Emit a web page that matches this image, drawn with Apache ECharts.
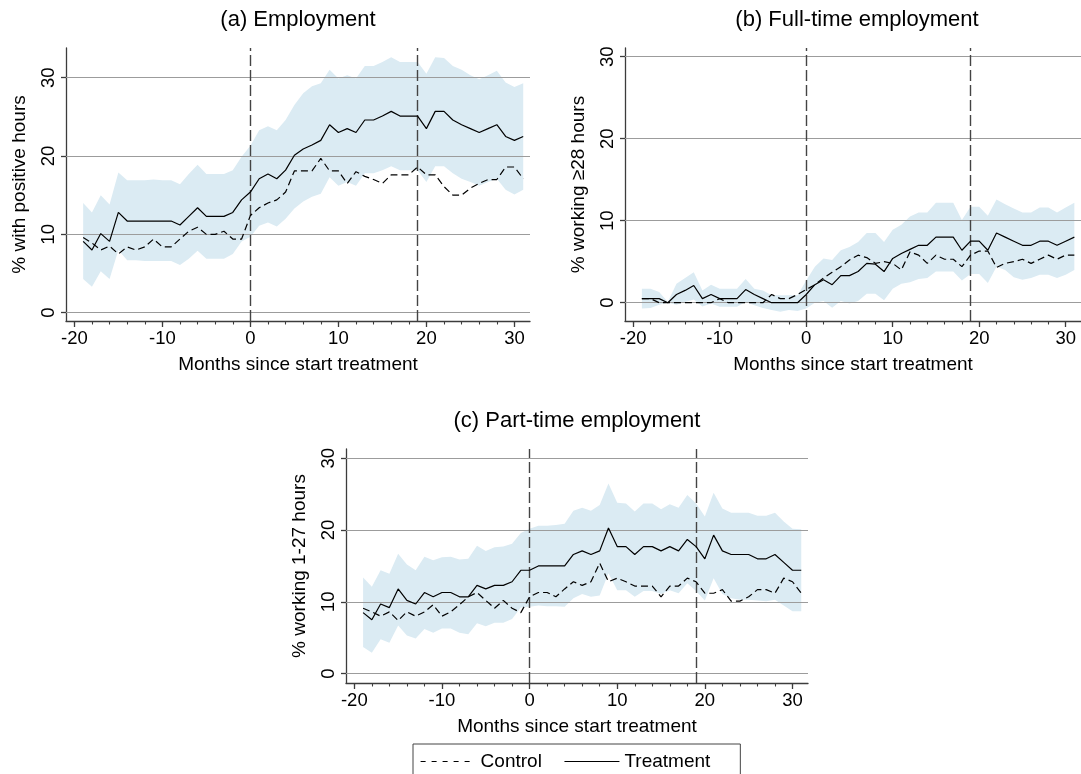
<!DOCTYPE html>
<html>
<head>
<meta charset="utf-8">
<title>Employment around start of treatment</title>
<script src="https://cdn.jsdelivr.net/npm/echarts@6/dist/echarts.min.js"></script>
<style>
  html, body { margin: 0; padding: 0; background: #ffffff; }
  #chart { width: 1081px; height: 774px; }
</style>
</head>
<body>
<div id="chart"></div>
<script>
// Months relative to the start of treatment
const months = [-19, -18, -17, -16, -15, -14, -13, -12, -11, -10, -9, -8, -7, -6, -5, -4, -3, -2, -1,
  0, 1, 2, 3, 4, 5, 6, 7, 8, 9, 10, 11, 12, 13, 14, 15, 16, 17, 18, 19, 20, 21, 22, 23, 24, 25, 26, 27, 28, 29, 30, 31];

const xMajorTicks = [-20, -10, 0, 10, 20, 30];
const xMinorTicks = [-20, -18, -16, -14, -12, -10, -8, -6, -4, -2, 0, 2, 4, 6, 8, 10, 12, 14, 16, 18, 20, 22, 24, 26, 28, 30];
const yTicks = [0, 10, 20, 30];
const eventMonths = [0, 19];

// (a) Employment
const empTreatment = [9.1, 8.0, 10.1, 9.1, 12.8, 11.7, 11.7, 11.7, 11.7, 11.7, 11.7, 11.2, 12.3, 13.4, 12.3, 12.3, 12.3, 12.8, 14.4,
  15.4, 17.1, 17.7, 17.1, 18.2, 20.1, 20.9, 21.4, 22.0, 24.0, 23.0, 23.5, 23.0, 24.6, 24.6, 25.1, 25.7, 25.1, 25.1, 25.1,
  23.5, 25.7, 25.7, 24.6, 24.0, 23.5, 23.0, 23.5, 24.0, 22.5, 22.0, 22.5];
const empControl = [9.6, 8.9, 8.0, 8.5, 7.5, 8.4, 8.0, 8.4, 9.4, 8.4, 8.4, 9.4, 10.4, 10.9, 10.0, 10.0, 10.4, 9.4, 9.4,
  12.4, 13.4, 14.0, 14.4, 15.4, 18.1, 18.1, 18.1, 19.7, 18.1, 18.1, 16.5, 18.0, 17.4, 17.0, 16.5, 17.6, 17.6, 17.6, 18.6,
  17.6, 17.6, 16.1, 15.0, 15.0, 15.9, 16.5, 17.0, 17.0, 18.6, 18.6, 17.1];
const empUpper = [14.0, 12.8, 15.0, 13.8, 17.9, 16.9, 16.9, 16.9, 17.0, 16.9, 16.9, 16.4, 17.7, 18.9, 17.7, 17.7, 17.7, 18.2, 19.9,
  21.3, 23.3, 23.8, 23.3, 24.6, 26.5, 28.0, 28.9, 29.3, 31.0, 29.9, 30.3, 29.9, 31.5, 31.5, 32.0, 32.6, 32.0, 32.0, 32.0,
  30.5, 32.6, 32.5, 31.5, 31.0, 30.3, 29.8, 30.3, 30.9, 29.4, 28.8, 29.3];
const empLower = [4.3, 3.3, 5.3, 4.3, 8.0, 6.7, 6.7, 6.6, 6.6, 6.6, 6.6, 6.1, 6.9, 7.9, 6.9, 6.9, 6.9, 7.5, 9.1,
  9.7, 11.1, 11.5, 11.0, 12.0, 13.3, 14.2, 14.8, 15.2, 17.3, 16.2, 16.7, 16.2, 17.8, 17.8, 18.2, 18.7, 18.2, 18.2, 18.2,
  16.7, 18.7, 18.7, 17.8, 17.1, 16.7, 16.2, 16.7, 17.1, 15.7, 15.1, 15.7];

// (b) Full-time employment
const ftTreatment = [0.5, 0.5, 0.5, 0.0, 1.0, 1.5, 2.1, 0.5, 1.0, 0.5, 0.5, 0.5, 1.6, 1.0, 0.5, 0.0, 0.0, 0.0, 0.0,
  1.0, 2.2, 2.8, 2.2, 3.3, 3.3, 3.8, 4.8, 4.7, 3.8, 5.4, 6.0, 6.5, 7.0, 7.0, 8.0, 8.0, 8.0, 6.4,
  7.5, 7.5, 6.4, 8.5, 8.0, 7.5, 7.0, 7.0, 7.5, 7.5, 7.0, 7.5, 8.0];
const ftControl = [0.5, 0.5, 0.0, 0.0, 0.0, 0.0, 0.0, 0.0, 0.0, 0.5, 0.0, 0.0, 0.0, 0.0, 0.0, 1.0, 0.5, 0.5, 1.0,
  1.6, 2.2, 3.0, 3.7, 4.4, 5.2, 5.8, 5.5, 4.8, 5.0, 4.8, 4.0, 6.2, 5.8, 4.8, 5.8, 5.3, 5.3, 4.4,
  5.8, 6.3, 6.3, 4.3, 4.8, 5.0, 5.3, 4.8, 5.3, 5.8, 5.3, 5.8, 5.8];
const ftUpper = [1.7, 1.7, 1.3, 0.1, 2.3, 3.0, 3.7, 1.5, 2.2, 1.7, 1.7, 1.7, 2.9, 1.7, 1.5, 0.9, 0.9, 0.9, 0.9,
  2.7, 4.4, 5.4, 5.2, 6.4, 6.8, 7.4, 8.5, 8.5, 7.4, 8.9, 9.5, 10.5, 11.0, 11.0, 12.2, 12.2, 12.2, 10.1,
  11.7, 11.7, 10.6, 12.6, 12.0, 11.5, 11.0, 11.0, 11.6, 11.6, 11.0, 11.6, 12.2];
const ftLower = [-0.7, -0.65, -0.25, 0.0, -0.25, 0.1, 0.4, -0.45, -0.1, -0.5, -0.5, -0.5, 0.1, -0.3, -0.65, -0.9, -1.1, -0.9, -1.0,
  -0.7, 0.0, 0.2, -0.6, 0.2, -0.1, 0.2, 1.1, 1.1, 0.3, 1.7, 2.3, 2.5, 2.9, 3.0, 3.8, 3.8, 3.8, 2.7,
  3.5, 3.5, 2.4, 4.4, 4.0, 3.1, 2.8, 3.0, 3.4, 3.4, 3.0, 3.4, 4.0];

// (c) Part-time employment
const ptTreatment = [8.5, 7.5, 9.7, 9.2, 11.8, 10.2, 9.7, 11.3, 10.7, 11.3, 11.3, 10.7, 10.7, 12.3, 11.8, 12.3, 12.3, 12.8, 14.4,
  14.4, 15.0, 15.0, 15.0, 15.0, 16.6, 17.1, 16.6, 17.1, 20.3, 17.7, 17.7, 16.6, 17.7, 17.7, 17.1, 17.7, 17.1, 18.7, 17.7,
  16.0, 19.3, 17.1, 16.6, 16.6, 16.6, 16.0, 16.0, 16.6, 15.5, 14.4, 14.4];
const ptControl = [9.1, 8.6, 8.0, 8.6, 7.4, 8.6, 8.0, 8.6, 9.6, 8.0, 8.6, 9.6, 10.7, 11.3, 10.2, 9.1, 10.2, 9.1, 8.5,
  10.7, 11.3, 11.3, 10.7, 11.8, 12.8, 12.3, 12.8, 15.4, 12.8, 13.3, 12.8, 12.2, 12.2, 12.2, 10.7, 12.2, 12.2, 13.3, 12.8,
  11.2, 11.2, 11.7, 10.1, 10.1, 10.7, 11.7, 11.7, 11.2, 13.3, 12.8, 11.2];
const ptUpper = [13.4, 12.1, 14.4, 13.9, 16.7, 15.2, 14.4, 16.3, 15.8, 16.2, 16.3, 15.9, 16.0, 17.8, 17.1, 17.6, 17.7, 18.1, 19.6,
  20.2, 20.6, 20.6, 20.7, 20.9, 22.7, 23.1, 22.7, 23.5, 26.5, 23.8, 23.7, 22.6, 23.7, 23.7, 22.9, 23.6, 23.1, 24.9, 23.7,
  21.9, 25.2, 23.0, 22.4, 22.4, 22.4, 22.0, 22.0, 22.4, 21.2, 20.2, 20.1];
const ptLower = [3.7, 2.9, 4.8, 4.3, 6.7, 5.3, 4.9, 6.2, 5.7, 6.3, 6.3, 5.7, 5.5, 7.0, 6.6, 7.1, 7.1, 7.6, 9.2,
  9.3, 9.5, 9.4, 9.4, 9.3, 10.5, 11.1, 10.7, 10.9, 14.0, 11.6, 11.6, 10.7, 11.5, 11.5, 11.1, 11.6, 11.2, 12.6, 11.5,
  10.2, 13.3, 11.1, 10.5, 10.3, 10.3, 10.2, 10.1, 10.3, 9.5, 8.7, 8.7];

const xTitle = 'Months since start treatment';

// Panel layout (pixels) and axis ranges
const FONT = '"Liberation Sans", Arial, Helvetica, sans-serif';
const AXIS_COLOR = '#3c3c3c';
const GRID_COLOR = '#9c9c9c';
const EVENT_COLOR = '#444444';
const BAND_COLOR = '#dbebf3';
const X_MIN = -20.95, X_MAX = 31.77;

const panels = [
  { title: '(a) Employment', yName: '% with positive hours',
    treat: empTreatment, ctrl: empControl, hi: empUpper, lo: empLower,
    rect: { left: 66, top: 48, width: 464, height: 273 }, yMin: -1.06, yMax: 33.79, titleTop: 9 },
  { title: '(b) Full-time employment', yName: '% working \u226528 hours',
    treat: ftTreatment, ctrl: ftControl, hi: ftUpper, lo: ftLower,
    rect: { left: 625, top: 48, width: 464, height: 273 }, yMin: -2.23, yMax: 31.06, titleTop: 9 },
  { title: '(c) Part-time employment', yName: '% working 1-27 hours',
    treat: ptTreatment, ctrl: ptControl, hi: ptUpper, lo: ptLower,
    rect: { left: 346, top: 449, width: 462, height: 234 }, yMin: -1.31, yMax: 31.3, titleTop: 410 }
];

const grids = [], xAxes = [], yAxes = [], series = [], titles = [];

panels.forEach(function (p, i) {
  grids.push({ left: p.rect.left, top: p.rect.top, width: p.rect.width, height: p.rect.height, containLabel: false });

  titles.push({
    text: p.title, left: p.rect.left + p.rect.width / 2, top: p.titleTop,
    textAlign: 'center', textVerticalAlign: 'top', padding: 0,
    textStyle: { fontFamily: FONT, fontSize: 22, fontWeight: 'normal', color: '#000' }
  });

  // major x axis with labels
  xAxes.push({
    type: 'value', gridIndex: i, min: X_MIN, max: X_MAX, position: 'bottom',
    axisLine: { show: true, onZero: false, lineStyle: { color: AXIS_COLOR, width: 1.3 } },
    axisTick: { show: true, customValues: xMajorTicks, length: 6, lineStyle: { color: AXIS_COLOR, width: 1.3 } },
    axisLabel: { show: true, customValues: xMajorTicks, margin: 8, fontFamily: FONT, fontSize: 18.5, color: '#000' },
    splitLine: { show: false },
    name: xTitle, nameLocation: 'middle', nameGap: 34,
    nameTextStyle: { fontFamily: FONT, fontSize: 19, color: '#000' }
  });
  // minor ticks every two months
  xAxes.push({
    type: 'value', gridIndex: i, min: X_MIN, max: X_MAX, position: 'bottom',
    axisLine: { show: false, onZero: false },
    axisTick: { show: true, customValues: xMinorTicks, length: 3.5, lineStyle: { color: AXIS_COLOR, width: 1.1 } },
    axisLabel: { show: false },
    splitLine: { show: false }
  });

  yAxes.push({
    type: 'value', gridIndex: i, min: p.yMin, max: p.yMax, position: 'left',
    axisLine: { show: true, onZero: false, lineStyle: { color: AXIS_COLOR, width: 1.3 } },
    axisTick: { show: true, customValues: yTicks, length: 5, lineStyle: { color: AXIS_COLOR, width: 1.3 } },
    axisLabel: { show: true, customValues: yTicks, rotate: 90, margin: 8, fontFamily: FONT, fontSize: 18.5, color: '#000' },
    splitLine: { show: false },
    name: p.yName, nameLocation: 'middle', nameGap: 37,
    nameTextStyle: { fontFamily: FONT, fontSize: 19, color: '#000' }
  });

  const hi = p.hi, lo = p.lo;
  // confidence band as one polygon through the axis scales
  series.push({
    type: 'custom', name: 'band' + i, xAxisIndex: 2 * i, yAxisIndex: i, z: 1, silent: true,
    data: months.map(function (m, k) { return [m, lo[k], hi[k]]; }),
    encode: { x: 0, y: [1, 2] },
    renderItem: function (params, api) {
      if (params.dataIndex !== 0) return null;
      const pts = [];
      for (let k = 0; k < months.length; k++) pts.push(api.coord([months[k], hi[k]]));
      for (let k = months.length - 1; k >= 0; k--) pts.push(api.coord([months[k], lo[k]]));
      return { type: 'polygon', shape: { points: pts }, style: { fill: BAND_COLOR, stroke: null } };
    }
  });

  series.push({
    type: 'line', name: 'Control', xAxisIndex: 2 * i, yAxisIndex: i, z: 3,
    data: months.map(function (m, k) { return [m, p.ctrl[k]]; }),
    symbol: 'none', showSymbol: false,
    itemStyle: { color: '#000' },
    lineStyle: { color: '#000', width: 1.2, type: [7, 4] },
    markLine: {
      silent: true, z: 2, symbol: ['none', 'none'], label: { show: false }, animation: false,
      data: yTicks.map(function (v) {
        return { yAxis: v, lineStyle: { color: GRID_COLOR, width: 1.2, type: 'solid' } };
      }).concat(eventMonths.map(function (m) {
        return { xAxis: m, lineStyle: { color: EVENT_COLOR, width: 1.4, type: [11, 4] } };
      }))
    }
  });

  series.push({
    type: 'line', name: 'Treatment', xAxisIndex: 2 * i, yAxisIndex: i, z: 3,
    data: months.map(function (m, k) { return [m, p.treat[k]]; }),
    symbol: 'none', showSymbol: false,
    itemStyle: { color: '#000' },
    lineStyle: { color: '#000', width: 1.2, type: 'solid' }
  });
});

const hiddenMarker = { color: 'rgba(0,0,0,0)', borderWidth: 0, opacity: 0 };

const chart = echarts.init(document.getElementById('chart'), null, { renderer: 'canvas' });
chart.setOption({
  animation: false,
  backgroundColor: '#ffffff',
  title: titles,
  grid: grids,
  xAxis: xAxes,
  yAxis: yAxes,
  legend: {
    data: [
      { name: 'Control', itemStyle: hiddenMarker, lineStyle: { type: [5, 6], color: '#000', width: 1.2 } },
      { name: 'Treatment', itemStyle: hiddenMarker, lineStyle: { color: '#000', width: 1.2 } }
    ],
    left: 413, top: 744, orient: 'horizontal',
    padding: [8, 30, 40, 7],
    itemWidth: 55, itemHeight: 20, itemGap: 22,
    borderColor: '#444', borderWidth: 1,
    selectedMode: false,
    textStyle: { fontFamily: FONT, fontSize: 19, color: '#000' }
  },
  series: series
});
</script>
</body>
</html>
